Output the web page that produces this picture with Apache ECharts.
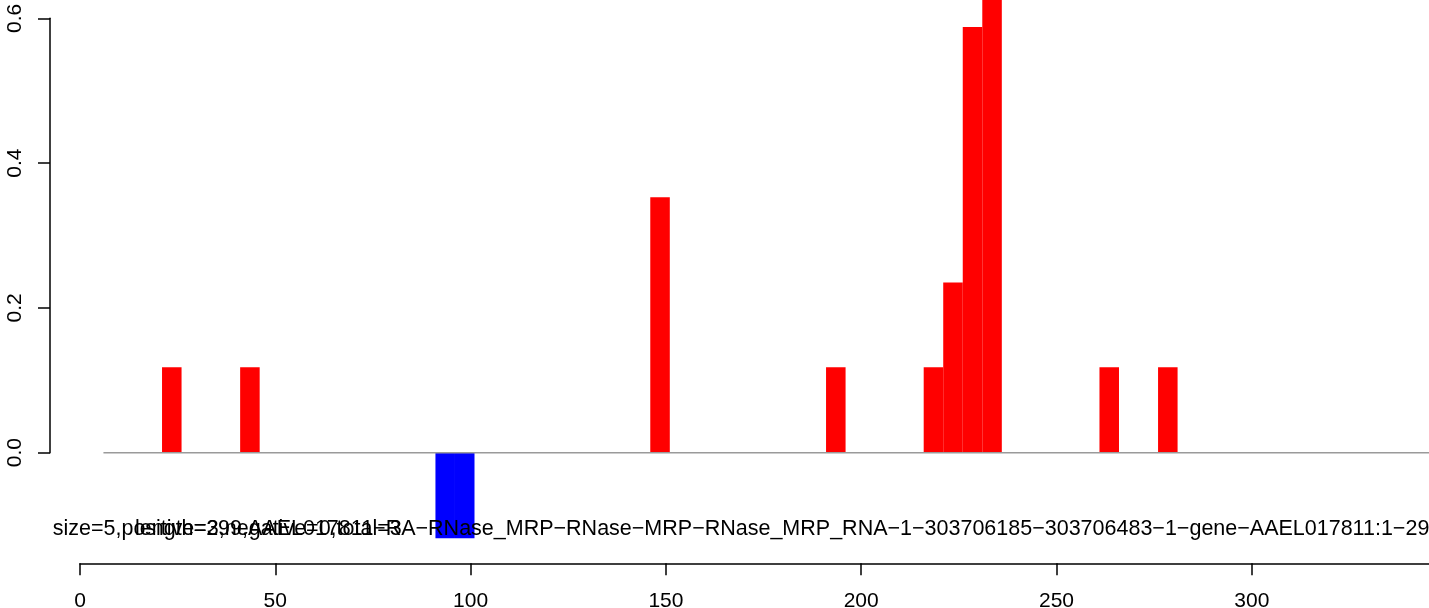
<!DOCTYPE html>
<html>
<head>
<meta charset="utf-8">
<script src="https://cdn.jsdelivr.net/npm/echarts@6/dist/echarts.min.js"></script>
<style>
  html, body { margin: 0; padding: 0; background: #fff; }
  #chart { width: 1429px; height: 608px; }
</style>
</head>
<body>
<div id="chart"></div>
<script>
// ---- data ----
const binWidth = 5;
const posStarts = [21, 41, 146, 191, 216, 221, 226, 231, 261, 276];
const posValues = [0.118, 0.118, 0.353, 0.118, 0.118, 0.235, 0.588, 0.706, 0.118, 0.118];
const negStarts = [91, 96];
const negValues = [-0.118, -0.118];
const baselineRange = [6, 350];
const xRange = [0, 350];
const xInterval = 50;
const yRange = [0, 0.6];
const yInterval = 0.2;
const labelA = 'size=5,positive=3,negative=0,total=3';
const labelB = 'length=299,AAEL017811\u2212RA\u2212RNase_MRP\u2212RNase\u2212MRP\u2212RNase_MRP_RNA\u22121\u2212303706185\u2212303706483\u22121\u2212gene\u2212AAEL017811:1\u2212299';

const FONT = '"Liberation Sans", Arial, Helvetica, sans-serif';
const chart = echarts.init(document.getElementById('chart'), null, { renderer: 'canvas' });

function barRenderer(color) {
  return function (params, api) {
    const s = api.value(0), v = api.value(1);
    const p0 = api.coord([s, 0]);
    const p1 = api.coord([s + binWidth, v]);
    return {
      type: 'rect',
      shape: {
        x: p0[0],
        y: Math.min(p0[1], p1[1]),
        width: p1[0] - p0[0],
        height: Math.abs(p1[1] - p0[1])
      },
      style: { fill: color }
    };
  };
}

const option = {
  backgroundColor: '#ffffff',
  animation: false,
  grid: {
    left: 80, top: 18.3, width: 1367.1, height: 434.4,
    containLabel: false, outerBoundsMode: 'none'
  },
  xAxis: {
    type: 'value',
    min: xRange[0], max: xRange[1], interval: xInterval,
    position: 'bottom',
    offset: 110.6,
    axisLine: { show: true, onZero: false, lineStyle: { color: '#000', width: 1.5 } },
    axisTick: { show: true, length: 12, lineStyle: { color: '#000', width: 1.5 } },
    axisLabel: { color: '#000', fontSize: 21, fontFamily: FONT, margin: 27, hideOverlap: false },
    splitLine: { show: false }
  },
  yAxis: {
    type: 'value',
    min: yRange[0], max: yRange[1], interval: yInterval,
    position: 'left',
    offset: 30,
    axisLine: { show: true, onZero: false, lineStyle: { color: '#000', width: 1.5 } },
    axisTick: { show: true, length: 12, lineStyle: { color: '#000', width: 1.5 } },
    axisLabel: {
      color: '#000', fontSize: 21, fontFamily: FONT, rotate: 90, margin: 24,
      formatter: v => v.toFixed(1), hideOverlap: false
    },
    splitLine: { show: false }
  },
  series: [
    {
      type: 'custom', name: 'positive', clip: false,
      renderItem: barRenderer('#ff0000'),
      data: posStarts.map((s, i) => [s, posValues[i]]),
      z: 2
    },
    {
      type: 'custom', name: 'negative', clip: false,
      renderItem: barRenderer('#0000ff'),
      data: negStarts.map((s, i) => [s, negValues[i]]),
      z: 2
    },
    {
      type: 'line', name: 'baseline', clip: false,
      data: [[baselineRange[0], 0], [baselineRange[1], 0]],
      symbol: 'none',
      lineStyle: { color: '#9a9a9a', width: 1.5 },
      z: 5, silent: true
    }
  ],
  graphic: [
    {
      type: 'text', x: 52.7, y: 529, z: 10,
      style: { text: labelA, fontSize: 21.5, fontFamily: FONT, fill: '#000', verticalAlign: 'middle' }
    },
    {
      type: 'text', x: 135, y: 529, z: 10,
      style: { text: labelB, fontSize: 21.5, fontFamily: FONT, fill: '#000', verticalAlign: 'middle' }
    }
  ]
};
chart.setOption(option);
</script>
</body>
</html>
